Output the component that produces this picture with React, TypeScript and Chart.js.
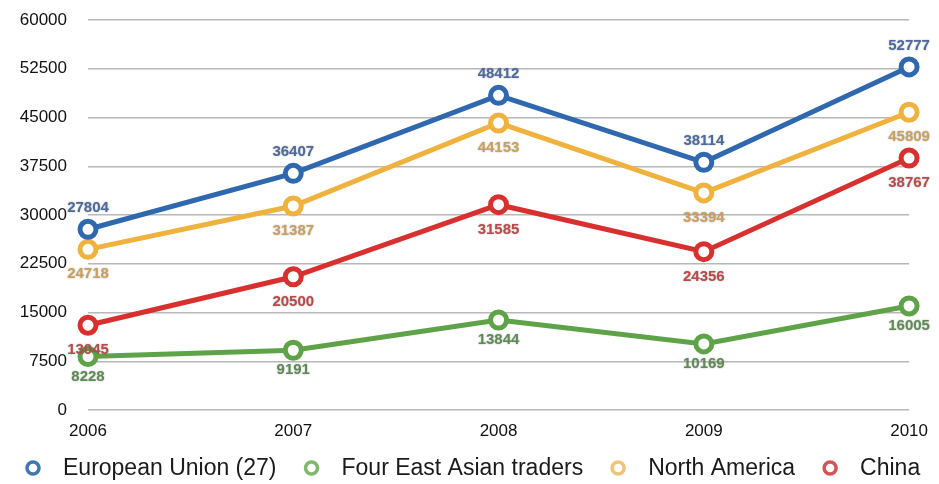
import React, { useEffect, useRef } from "react";
import { Chart, registerables } from "chart.js";

Chart.register(...registerables);

const years = ["2006", "2007", "2008", "2009", "2010"];
const euValues = [27804, 36407, 48412, 38114, 52777];
const eastAsiaValues = [8228, 9191, 13844, 10169, 16005];
const northAmericaValues = [24718, 31387, 44153, 33394, 45809];
const chinaValues = [13045, 20500, 31585, 24356, 38767];

const seriesNames = ["European Union (27)", "Four East Asian traders", "North America", "China"];
const lineColors = ["#2f68ae", "#5fa348", "#f0b23e", "#d8302f"];
const legendColors = ["#3f77b3", "#7fb86a", "#f2c27a", "#d25556"];
const labelColors = ["#4c6a9c", "#5f8a56", "#c9a060", "#b84a4a"];
const labelAbove = [true, false, false, false];
const labelOffsets = [21, 20, 25, 25];

const FONT = "'Liberation Sans', Arial, Helvetica, sans-serif";

const valueLabels = {
  id: "valueLabels",
  afterDatasetsDraw(chart: any) {
    const ctx = chart.ctx;
    ctx.save();
    ctx.font = `bold 15px ${FONT}`;
    ctx.textBaseline = "middle";
    chart.data.datasets.forEach((ds: any, i: number) => {
      const meta = chart.getDatasetMeta(i);
      meta.data.forEach((pt: any, j: number) => {
        const text = String(ds.data[j]);
        const w = ctx.measureText(text).width;
        let x = pt.x;
        if (x + w / 2 > chart.width - 4) x = chart.width - 4 - w / 2;
        const y = labelAbove[i] ? pt.y - labelOffsets[i] : pt.y + labelOffsets[i];
        ctx.shadowColor = "rgba(0,0,0,0.3)";
        ctx.shadowBlur = 2;
        ctx.fillStyle = labelColors[i];
        ctx.textAlign = "center";
        ctx.fillText(text, x, y);
      });
    });
    ctx.restore();
  },
};

const customLegend = {
  id: "customLegend",
  afterDraw(chart: any) {
    const ctx = chart.ctx;
    ctx.save();
    ctx.font = `23px ${FONT}`;
    ctx.textBaseline = "middle";
    ctx.textAlign = "left";
    const circleToText = 30;
    const textToCircle = 35;
    const r = 6;
    let x = 33;
    const y = 468;
    seriesNames.forEach((name, i) => {
      ctx.beginPath();
      ctx.arc(x, y, r, 0, Math.PI * 2);
      ctx.fillStyle = "#ffffff";
      ctx.fill();
      ctx.lineWidth = 3.5;
      ctx.strokeStyle = legendColors[i];
      ctx.stroke();
      ctx.fillStyle = "#1a1a1a";
      ctx.fillText(name, x + circleToText, y + 1);
      x += circleToText + ctx.measureText(name).width + textToCircle;
    });
    ctx.restore();
  },
};

export default function App() {
  const ref = useRef<HTMLCanvasElement>(null);
  useEffect(() => {
    if (!ref.current) return;
    const all = [euValues, eastAsiaValues, northAmericaValues, chinaValues];
    const chart = new Chart(ref.current, {
      type: "line",
      data: {
        labels: years,
        datasets: all.map((vals, i) => ({
          label: seriesNames[i],
          data: vals,
          borderColor: lineColors[i],
          backgroundColor: "#ffffff",
          borderWidth: 5,
          pointRadius: 8,
          pointBorderWidth: 5,
          pointBackgroundColor: "#ffffff",
          pointBorderColor: lineColors[i],
          tension: 0,
          fill: false,
        })),
      },
      options: {
        animation: false,
        responsive: false,
        maintainAspectRatio: false,
        layout: { padding: { left: 8, right: 25, top: 20, bottom: 44 } },
        plugins: {
          legend: { display: false },
          tooltip: { enabled: false },
        },
        scales: {
          x: {
            offset: false,
            grid: { display: false, drawTicks: false },
            border: { display: false },
            ticks: { color: "#111", font: { family: FONT, size: 17 }, padding: 11, maxRotation: 0 },
            afterFit: (s: any) => { s.height = 30; },
          },
          y: {
            min: 0,
            max: 60000,
            grid: { color: "#b8b8b8", lineWidth: 1.5, drawTicks: false },
            border: { display: false },
            ticks: {
              stepSize: 7500,
              color: "#111",
              font: { family: FONT, size: 17 },
              padding: 21,
              callback: (v: any) => String(v),
            },
            afterFit: (s: any) => {
              s.width = 80;
              s.paddingTop = 10;
              s.paddingBottom = 10;
            },
          },
        },
      },
      plugins: [valueLabels, customLegend],
    });
    return () => chart.destroy();
  }, []);
  return (
    <div style={{ position: "fixed", left: 0, top: 0, width: 939, height: 484, background: "#fff" }}>
      <canvas ref={ref} width={939} height={484} style={{ width: 939, height: 484 }} />
    </div>
  );
}
